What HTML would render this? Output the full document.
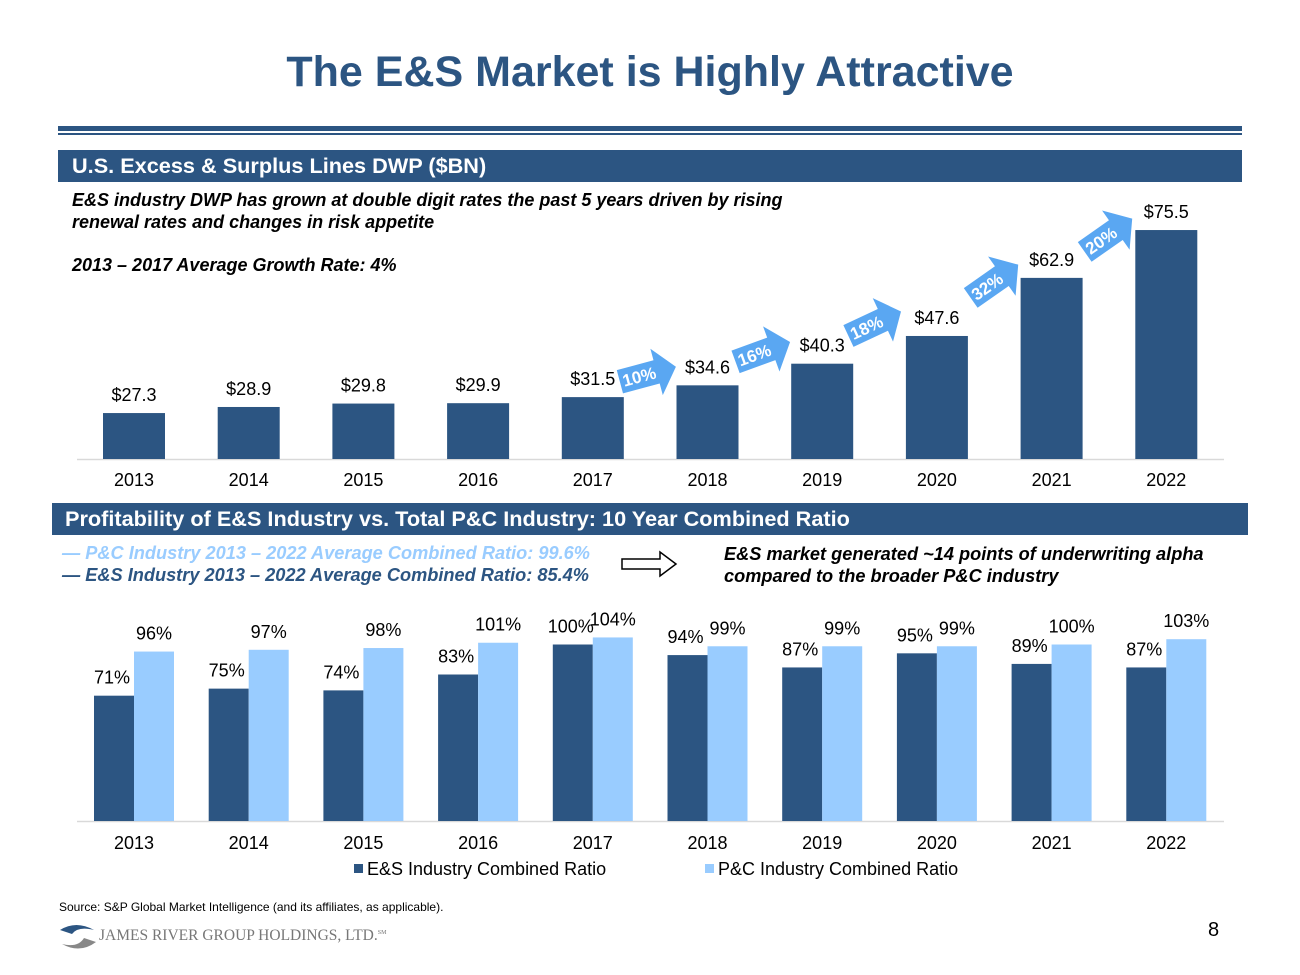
<!DOCTYPE html>
<html><head><meta charset="utf-8"><style>
html,body{margin:0;padding:0;background:#fff}
body{width:1300px;height:975px;position:relative;overflow:hidden;font-family:"Liberation Sans",Arial,sans-serif}
.abs{position:absolute}
.hdr{background:#2c5582;color:#fff;font-weight:bold;font-size:21.7px;line-height:32px;box-sizing:border-box}
.it{font-style:italic;font-weight:bold;font-size:18px}
.it2{font-style:italic;font-weight:bold;font-size:18.2px}
</style></head><body>
<div class="abs" style="left:0;width:1300px;top:48px;text-align:center;font-size:43px;font-weight:bold;color:#2c5582">The E&amp;S Market is Highly Attractive</div>
<div class="abs" style="left:58px;width:1184px;top:126px;height:5px;background:#2c5582"></div>
<div class="abs" style="left:58px;width:1184px;top:133px;height:2px;background:#2c5582"></div>
<div class="abs hdr" style="left:58px;width:1184px;top:150px;height:32px;padding-left:14px">U.S. Excess &amp; Surplus Lines DWP ($BN)</div>
<div class="abs it" style="left:72px;top:189px;line-height:22px">E&amp;S industry DWP has grown at double digit rates the past 5 years driven by rising<br>renewal rates and changes in risk appetite</div>
<div class="abs it" style="left:72px;top:255px">2013 – 2017 Average Growth Rate: 4%</div>
<div class="abs hdr" style="left:52px;width:1196px;top:503px;height:32px;padding-left:13px">Profitability of E&amp;S Industry vs. Total P&amp;C Industry: 10 Year Combined Ratio</div>
<div class="abs it2" style="left:62px;top:543px;color:#99ccff">— P&amp;C Industry 2013 – 2022 Average Combined Ratio: 99.6%</div>
<div class="abs it2" style="left:62px;top:565px;color:#2c5582">— E&amp;S Industry 2013 – 2022 Average Combined Ratio: 85.4%</div>
<svg class="abs" style="left:620px;top:550px" width="60" height="30"><polygon points="2,9 40,9 40,2 56,14 40,26 40,19 2,19" fill="#fff" stroke="#000" stroke-width="1.5"/></svg>
<div class="abs it2" style="left:724px;top:543px;line-height:22px">E&amp;S market generated ~14 points of underwriting alpha<br>compared to the broader P&amp;C industry</div>
<div class="abs" style="left:59px;top:900px;font-size:12px">Source: S&amp;P Global Market Intelligence (and its affiliates, as applicable).</div>
<svg class="abs" style="left:58px;top:922px" width="40" height="30"><path d="M2,8 Q18,-2 36,8 Q20,4 14,12 Z" fill="#2c5582"/><path d="M38,20 Q22,32 4,22 Q20,26 26,16 Z" fill="#888"/></svg>
<div class="abs" style="left:99px;top:927px;font-family:'Liberation Serif',serif;font-size:15.5px;color:#777">JAMES RIVER GROUP HOLDINGS, LTD.<sup style="font-size:6px">SM</sup></div>
<div class="abs" style="left:1208px;top:919px;font-size:20px">8</div>
<svg id="chart" class="abs" style="left:0;top:0" width="1300" height="975"></svg>
<script>
const years=["2013","2014","2015","2016","2017","2018","2019","2020","2021","2022"];
const dwp=[27.3,28.9,29.8,29.9,31.5,34.6,40.3,47.6,62.9,75.5];
const dwpLabels=["$27.3","$28.9","$29.8","$29.9","$31.5","$34.6","$40.3","$47.6","$62.9","$75.5"];
const growth=["10%","16%","18%","32%","20%"];
const esRatio=[71,75,74,83,100,94,87,95,89,87];
const pcRatio=[96,97,98,101,104,99,99,99,100,103];
const svg=document.getElementById('chart');
const NS='http://www.w3.org/2000/svg';
function mk(t,a,txt){const e=document.createElementNS(NS,t);for(const k in a)e.setAttribute(k,a[k]);if(txt!=null)e.textContent=txt;svg.appendChild(e);return e;}
const xc=i=>134+i*114.7;
const y1=v=>459-(v-15.2)*3.797;
mk('line',{x1:77,x2:1224,y1:459.5,y2:459.5,stroke:'#d9d9d9','stroke-width':1.5});
dwp.forEach((v,i)=>{
 const b=mk('rect',{x:xc(i)-31,y:y1(v),width:62,height:459-y1(v),fill:'#2c5582'});
 
 
 const l=mk('text',{x:xc(i),y:y1(v)-12,'text-anchor':'middle','font-size':18},dwpLabels[i]);
 
 
 const t=mk('text',{x:xc(i),y:486,'text-anchor':'middle','font-size':18},years[i]);
 
 
});
const arr=[[645,375,-15],[760,353,-20],[872,325,-25],[992,283,-35],[1106,237,-35]];
growth.forEach((g,k)=>{
 const [cx,cy,a]=arr[k];
 const grp=document.createElementNS(NS,'g');
 grp.setAttribute('transform',`translate(${cx},${cy}) rotate(${a})`);
 
 
 svg.appendChild(grp);
 const p=document.createElementNS(NS,'polygon');p.setAttribute('points','-26,-12 12,-12 12,-24 32,0 12,24 12,12 -26,12');p.setAttribute('fill','#5aa7f2');grp.appendChild(p);
 const tx=document.createElementNS(NS,'text');tx.setAttribute('x',-6);tx.setAttribute('y',6);tx.setAttribute('text-anchor','middle');tx.setAttribute('font-size',17);tx.setAttribute('font-weight','bold');tx.setAttribute('fill','#fff');tx.textContent=g;grp.appendChild(tx);
});
const y2=v=>821-v*1.765;
mk('line',{x1:77,x2:1224,y1:821.5,y2:821.5,stroke:'#d9d9d9','stroke-width':1.5});
years.forEach((yr,i)=>{
 const c=xc(i);
 const e=mk('rect',{x:c-40,y:y2(esRatio[i]),width:40,height:821-y2(esRatio[i]),fill:'#2c5582'});
 
 
 const p=mk('rect',{x:c,y:y2(pcRatio[i]),width:40,height:821-y2(pcRatio[i]),fill:'#99ccff'});
 
 
 const el=mk('text',{x:c-22,y:y2(esRatio[i])-12,'text-anchor':'middle','font-size':18},esRatio[i]+'%');
 
 
 const pl=mk('text',{x:c+20,y:y2(pcRatio[i])-12,'text-anchor':'middle','font-size':18},pcRatio[i]+'%');
 
 
 const t=mk('text',{x:c,y:849,'text-anchor':'middle','font-size':18},yr);
 
 
});
const l1=mk('rect',{x:354,y:864,width:9,height:9,fill:'#2c5582'});


const l2=mk('text',{x:367,y:875,'font-size':18},'E&S Industry Combined Ratio');


const l3=mk('rect',{x:705,y:864,width:9,height:9,fill:'#99ccff'});


const l4=mk('text',{x:718,y:875,'font-size':18},'P&C Industry Combined Ratio');


</script>
</body></html>
